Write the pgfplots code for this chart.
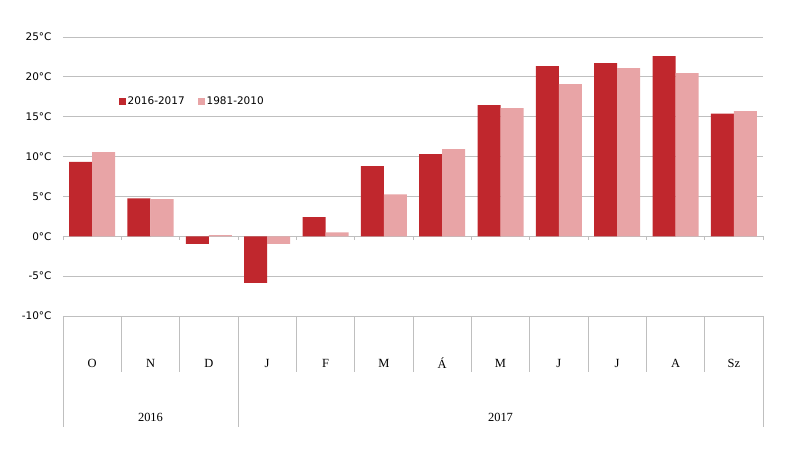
\documentclass[border=0pt]{standalone}
\usepackage{pgfplots}
\pgfplotsset{compat=1.18}
\usepackage{fontspec}
\setmainfont{DejaVu Sans}
\newfontfamily\serifmonth{Liberation Serif}
\definecolor{darkred}{RGB}{192,39,45}
\definecolor{lightred}{RGB}{232,164,166}
\definecolor{gridgray}{RGB}{191,191,191}
\begin{document}
\begin{tikzpicture}
\path[use as bounding box] (-63bp,-146bp) rectangle (725bp,316bp);
\begin{axis}[
 scale only axis, width=700bp, height=279bp,
 xmin=-0.5, xmax=11.5, ymin=-10, ymax=25,
 ybar=0pt, bar width=23bp,
 axis line style={draw=none},
 major tick length=0pt,
 ytick={-10,-5,0,5,10,15,20,25},
 yticklabels={-10°C,-5°C,0°C,5°C,10°C,15°C,20°C,25°C},
 yticklabel style={font=\fontsize{10.5}{12}\selectfont, xshift=-8bp},
 xtick={0,...,11},
 xticklabels={O,N,D,J,F,M,Á,M,J,J,A,Sz},
 xticklabel style={font=\serifmonth\fontsize{12.5}{14}\selectfont, anchor=center, yshift=-47bp},
 ymajorgrids, grid style={gridgray, line width=0.75bp},
 clip=false,
 legend style={at={(0.075,0.77)}, anchor=west, draw=none, fill=none, font=\fontsize{10.5}{12}\selectfont, legend columns=2, /tikz/every even column/.append style={column sep=11bp}},
 legend image code/.code={\fill[#1] (0bp,-3.5bp) rectangle (7bp,3.5bp);},
]
\addplot[fill=darkred, draw=none] coordinates {
(0,9.33) (1,4.77) (2,-0.96) (3,-5.86) (4,2.39) (5,8.79) (6,10.3) (7,16.45) (8,21.35) (9,21.73) (10,22.6) (11,15.4)};
\addlegendentry{2016-2017}
\addplot[fill=lightred, draw=none] coordinates {
(0,10.55) (1,4.65) (2,0.15) (3,-0.95) (4,0.5) (5,5.27) (6,10.93) (7,16.08) (8,19.1) (9,21.1) (10,20.47) (11,15.7)};
\addlegendentry{1981-2010}
\pgfplotsinvokeforeach{-0.5,0.5,1.5,2.5,3.5,4.5,5.5,6.5,7.5,8.5,9.5,10.5,11.5}{
 \draw[gridgray, line width=0.75bp] (axis cs:#1,0) -- ([yshift=-4bp]axis cs:#1,0);
}
\pgfplotsinvokeforeach{0.5,1.5,3.5,4.5,5.5,6.5,7.5,8.5,9.5,10.5}{
 \draw[gridgray, line width=0.75bp] (axis cs:#1,-10) -- ([yshift=-56bp]axis cs:#1,-10);
}
\pgfplotsinvokeforeach{-0.5,2.5,11.5}{
 \draw[gridgray, line width=0.75bp] (axis cs:#1,-10) -- ([yshift=-111bp]axis cs:#1,-10);
}
\node[font=\serifmonth\fontsize{12.5}{14}\selectfont] at ([yshift=-101bp]axis cs:1,-10) {2016};
\node[font=\serifmonth\fontsize{12.5}{14}\selectfont] at ([yshift=-101bp]axis cs:7,-10) {2017};
\end{axis}
\end{tikzpicture}
\end{document}
